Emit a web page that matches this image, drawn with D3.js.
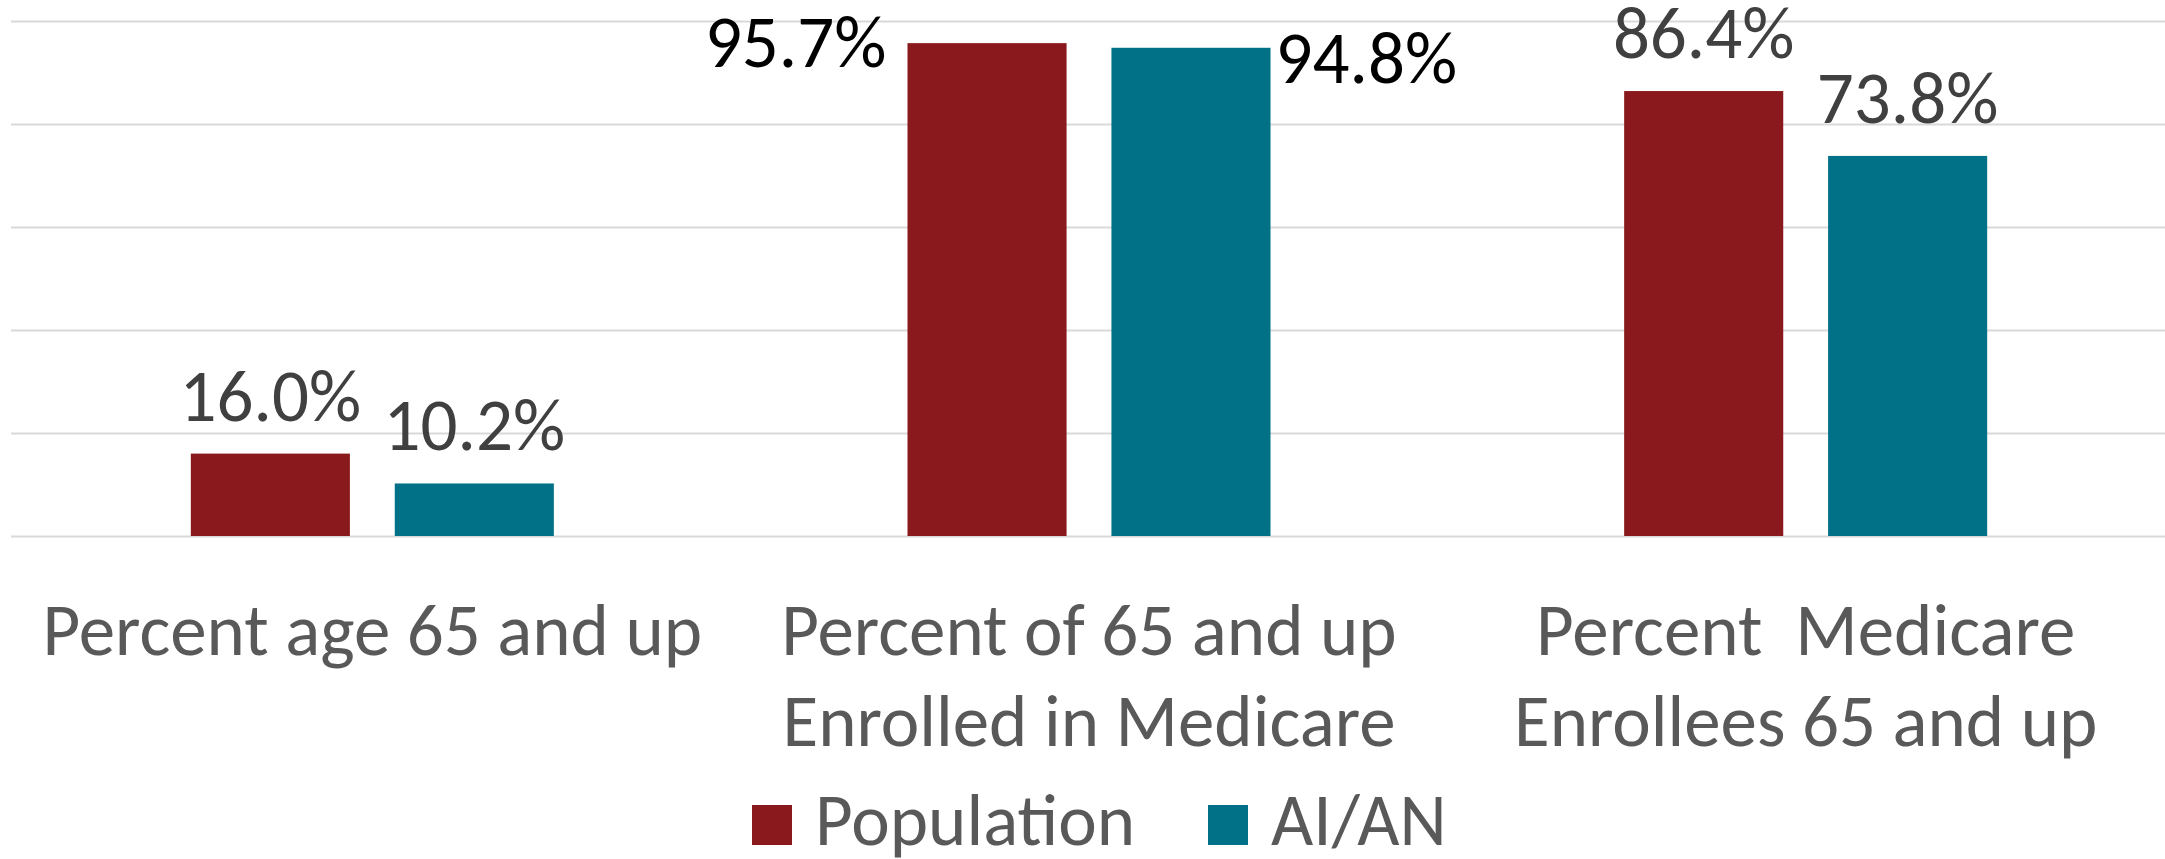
<!DOCTYPE html>
<html>
<head>
<meta charset="utf-8">
<script src="https://cdn.jsdelivr.net/npm/d3@7"></script>
<style>
  body { margin: 0; background: #fff; }
  svg { display: block; font-family: "Carlito", "Lato", sans-serif; }
  .grid line { stroke: #d9d9d9; stroke-width: 2; }
  .category { fill: #595959; white-space: pre; }
  .legend text { fill: #595959; }
</style>
</head>
<body>
<svg width="2165" height="859"></svg>
<script>
// data
const categories = ["Percent age 65 and up", "Percent of 65 and up Enrolled in Medicare", "Percent  Medicare Enrollees 65 and up"]
const categoryLines = [["Percent age 65 and up"], ["Percent of 65 and up", "Enrolled in Medicare"], ["Percent  Medicare", "Enrollees 65 and up"]]
const series = ["Population", "AI/AN"]
const population = [16.0, 95.7, 86.4]
const aian = [10.2, 94.8, 73.8]
const yTicks = [0, 20, 40, 60, 80, 100]

const colors = { "Population": "#8a191d", "AI/AN": "#007186" }

const rows = []
categories.forEach((c, i) => {
    rows.push({ cat: c, series: "Population", value: population[i], ci: i })
    rows.push({ cat: c, series: "AI/AN", value: aian[i], ci: i })
})

const svg = d3.select("svg")
const fontSize = 73

const x0 = d3.scaleBand()
    .domain(categories)
    .range([14, 2164])

const x1 = d3.scaleBand()
    .domain(series)
    .range([0, x0.bandwidth()])
    .paddingInner(0.22)
    .paddingOuter(0.867)

const y = d3.scaleLinear()
    .domain([0, 100])
    .range([536, 21])

// gridlines
svg.append("g")
    .attr("class", "grid")
    .attr("transform", "translate(11,0)")
    .call(d3.axisLeft(y).tickValues(yTicks).tickSize(-2154).tickFormat(""))
    .call(g => g.select(".domain").remove())

// bars
svg.selectAll("rect.bar")
    .data(rows)
    .enter()
    .append("rect")
    .attr("class", "bar")
    .attr("x", d => x0(d.cat) + x1(d.series))
    .attr("y", d => y(d.value))
    .attr("width", x1.bandwidth())
    .attr("height", d => y(0) - y(d.value))
    .attr("fill", d => colors[d.series])

// labels that were dragged off the bar in the original
const moved = {
    "1-Population": { anchor: "end", dx: -21, dy: 24, color: "#000" },
    "1-AI/AN": { anchor: "start", dx: 5, dy: 35, color: "#000" }
}

svg.selectAll("text.value")
    .data(rows)
    .enter()
    .append("text")
    .attr("class", "value")
    .style("font-size", fontSize + "px")
    .each(function(d) {
        const m = moved[d.ci + "-" + d.series]
        const left = x0(d.cat) + x1(d.series)
        const t = d3.select(this)
        if (m) {
            t.attr("x", m.anchor == "end" ? left + m.dx : left + x1.bandwidth() + m.dx)
             .attr("y", y(d.value) + m.dy)
             .attr("text-anchor", m.anchor)
             .attr("fill", m.color)
        } else {
            t.attr("x", left + x1.bandwidth() / 2)
             .attr("y", y(d.value) - 33)
             .attr("text-anchor", "middle")
             .attr("fill", "#404040")
        }
    })
    .text(d => d.value.toFixed(1) + "%")

// category labels
const cat = svg.selectAll("text.category")
    .data(categories)
    .enter()
    .append("text")
    .attr("class", "category")
    .attr("text-anchor", "middle")
    .style("font-size", fontSize + "px")

cat.selectAll("tspan")
    .data((d, i) => categoryLines[i].map(l => ({ line: l, cat: d })))
    .enter()
    .append("tspan")
    .attr("x", d => x0(d.cat) + x0.bandwidth() / 2)
    .attr("y", (d, i) => 655 + i * 90.5)
    .text(d => d.line)

// legend
const legendX = [752, 1208]
const legend = svg.append("g").attr("class", "legend")
    .selectAll("g")
    .data(series)
    .enter()
    .append("g")
    .attr("transform", (d, i) => `translate(${legendX[i]}, 805)`)

legend.append("rect")
    .attr("width", 40)
    .attr("height", 40)
    .attr("fill", d => colors[d])

legend.append("text")
    .attr("x", 63)
    .attr("y", 40)
    .style("font-size", fontSize + "px")
    .text(d => d)
</script>
</body>
</html>
